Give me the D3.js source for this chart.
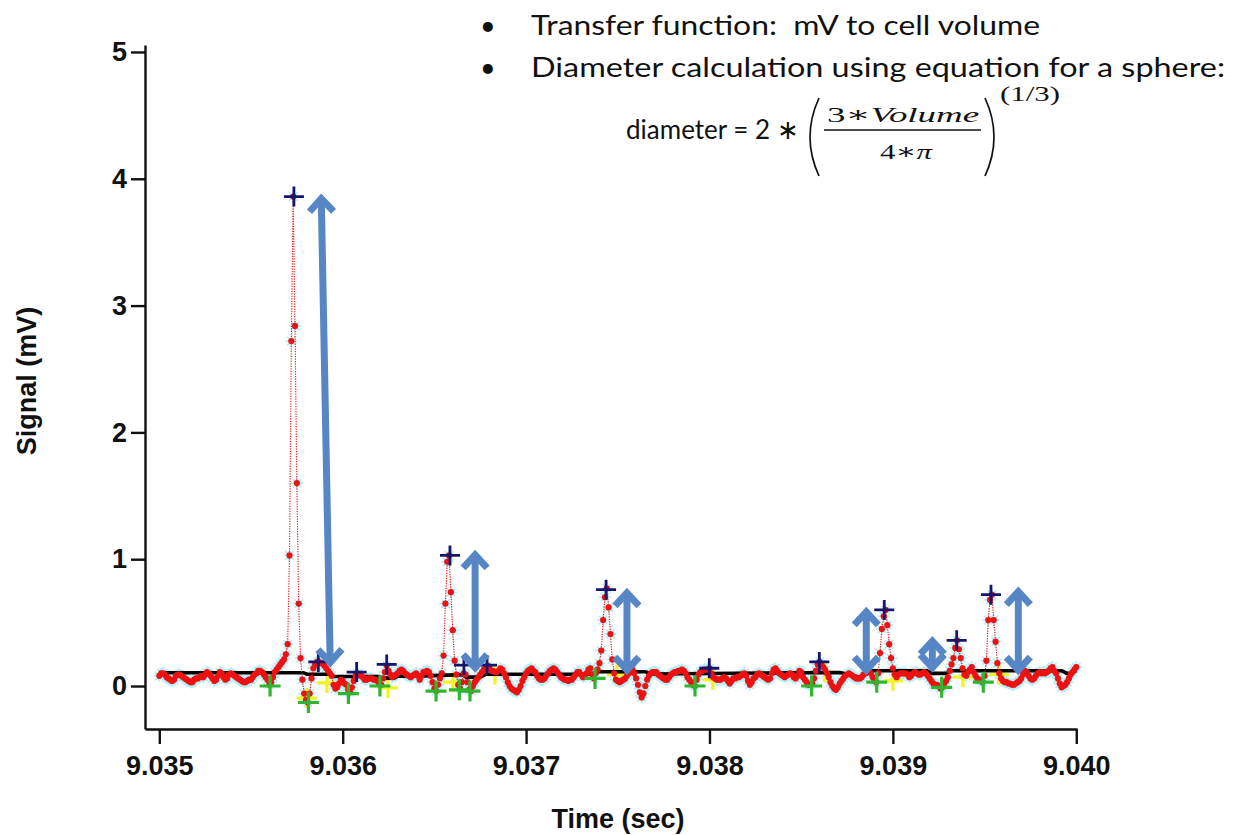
<!DOCTYPE html>
<html><head><meta charset="utf-8">
<script src="https://cdn.jsdelivr.net/npm/d3@7/dist/d3.min.js"></script>
<style>
html,body{margin:0;padding:0;background:#fff;}
svg{display:block;}
</style></head>
<body>
<svg id="chart" width="1237" height="835"></svg>
<script>
// ---- data ----
const startTime = 9.035;      // sec, first sample
const sampleStep = 0.00001;   // sec between samples
const signal = [
0.08,0.10,0.10,0.09,0.07,0.06,0.05,0.04,0.05,0.08,
0.09,0.09,0.08,0.07,0.06,0.05,0.04,0.03,0.03,0.05,
0.06,0.06,0.07,0.08,0.07,0.09,0.11,0.10,0.08,0.06,
0.04,0.05,0.08,0.11,0.10,0.07,0.05,0.06,0.09,0.10,
0.09,0.08,0.07,0.06,0.05,0.04,0.03,0.03,0.04,0.05,
0.05,0.07,0.09,0.10,0.12,0.12,0.11,0.09,0.07,0.05,
0.01,
0.03,0.07,0.11,0.13,0.15,0.17,0.19,0.21,0.25,0.33,
1.03,2.72,3.86,2.84,1.60,0.65,0.22,0.05,-0.06,-0.11,
-0.13,-0.06,0.06,0.14,0.17,0.19,0.19,0.18,0.18,0.16,
0.14,0.12,0.10,0.08,0.01,-0.02,-0.01,0.02,0.05,0.04,
0.02,0.01,-0.03,-0.05,-0.01,0.04,0.08,0.10,0.09,0.08,
0.07,0.05,0.05,0.06,0.06,0.06,0.05,0.05,0.04,0.02,
0.01,0.06,0.11,0.16,0.12,0.09,0.07,0.08,0.09,0.10,
0.12,0.13,0.12,0.10,0.09,0.08,0.07,0.08,0.09,0.10,
0.08,0.05,0.08,0.11,0.11,0.12,0.11,0.08,0.03,-0.02,
-0.04,0.01,0.06,0.10,0.24,0.65,0.98,1.03,0.74,0.44,
0.20,0.09,0.01,-0.02,0.03,0.10,0.09,0.03,-0.03,-0.04,
0.00,0.03,0.05,0.07,0.09,0.11,0.13,0.15,0.16,0.14,
0.12,0.12,0.11,0.11,0.12,0.14,0.13,0.10,0.07,0.03,
0.00,-0.02,-0.03,-0.04,-0.05,-0.03,0.00,0.04,0.07,0.10,
0.12,0.13,0.14,0.12,0.11,0.08,0.06,0.05,0.05,0.06,
0.08,0.10,0.12,0.13,0.14,0.13,0.11,0.09,0.07,0.06,
0.05,0.05,0.04,0.05,0.05,0.07,0.09,0.11,0.11,0.09,
0.07,0.08,0.10,0.13,0.14,0.09,0.06,0.10,0.13,0.18,
0.28,0.52,0.70,0.77,0.62,0.41,0.21,0.10,0.05,0.04,
0.03,0.04,0.05,0.06,0.08,0.10,0.11,0.13,0.10,0.06,
0.01,-0.05,-0.09,-0.06,0.00,0.05,0.08,0.10,0.11,0.11,
0.11,0.09,0.08,0.07,0.06,0.05,0.05,0.07,0.09,0.10,
0.11,0.11,0.12,0.12,0.13,0.12,0.10,0.07,0.05,0.03,
0.01,0.00,0.05,0.09,0.11,0.12,0.13,0.13,0.13,0.14,
0.10,0.07,0.06,0.05,0.05,0.05,0.06,0.07,0.06,0.04,
0.02,0.04,0.06,0.06,0.07,0.07,0.08,0.09,0.10,0.08,
0.04,0.01,0.03,0.06,0.07,0.09,0.10,0.09,0.08,0.07,
0.06,0.05,0.06,0.10,0.13,0.14,0.12,0.10,0.09,0.08,
0.07,0.08,0.09,0.10,0.09,0.07,0.06,0.08,0.12,0.11,
0.07,0.05,0.03,0.01,0.01,0.02,0.06,0.12,0.17,0.19,
0.17,0.15,0.13,0.10,0.07,0.03,0.00,-0.02,-0.03,-0.01,
0.02,0.04,0.06,0.08,0.09,0.10,0.09,0.08,0.07,0.06,
0.06,0.06,0.07,0.09,0.10,0.12,0.12,0.10,0.07,0.04,
0.03,0.10,0.26,0.45,0.55,0.60,0.48,0.33,0.22,0.14,
0.09,0.07,0.09,0.10,0.10,0.10,0.10,0.09,0.07,0.08,
0.10,0.11,0.10,0.09,0.09,0.10,0.11,0.10,0.08,0.06,
0.04,0.02,0.01,0.01,0.00,-0.02,-0.01,0.02,0.04,0.07,
0.12,0.17,0.22,0.30,0.36,0.29,0.22,0.14,0.09,0.08,
0.11,0.13,0.15,0.11,0.08,0.06,0.05,0.04,0.03,0.08,
0.20,0.52,0.68,0.72,0.52,0.35,0.18,0.10,0.06,0.04,
0.03,0.03,0.02,0.02,0.01,0.01,0.02,0.03,0.04,0.06,
0.09,0.12,0.11,0.08,0.06,0.05,0.06,0.08,0.10,0.11,
0.10,0.11,0.10,0.11,0.12,0.14,0.15,0.12,0.10,0.06,
0.02,-0.01,0.00,0.01,0.03,0.06,0.09,0.11,0.13,0.15
];

// baseline (black) trace
const baseTimes = [9.0350,9.035785,9.035805,9.035931,9.035953,9.036193,9.036214,9.036280,9.036301,9.036449,9.036651,9.036673,9.036749,9.036782,9.037349,9.037393,9.037649,9.037687,9.038712,9.038821,9.038892,9.039186,9.039213,9.039295,9.039311,9.039922,9.039949,9.039976,9.039998];
const baseValues = [0.105,0.105,0.093,0.093,0.075,0.075,0.062,0.062,0.078,0.080,0.090,0.070,0.070,0.093,0.093,0.113,0.113,0.095,0.107,0.070,0.120,0.120,0.100,0.100,0.120,0.120,0.100,0.100,0.120];

// detected maxima (navy +)
const maxTimes = [9.035734,9.035867,9.036076,9.036240,9.036585,9.036661,9.036787,9.037436,9.037999,9.038599,9.038953,9.039348,9.039535];
const maxValues = [3.86,0.19,0.11,0.17,1.03,0.165,0.165,0.76,0.14,0.19,0.60,0.36,0.72];

// detected minima (green +)
const minTimes = [9.035604,9.035813,9.036031,9.036203,9.036509,9.036636,9.036694,9.037376,9.037921,9.038557,9.038912,9.039266,9.039493];
const minValues = [0.00,-0.13,-0.06,0.00,-0.04,-0.03,-0.04,0.06,0.00,0.00,0.03,-0.01,0.03];

// yellow markers
const yelTimes = [9.035804,9.035914,9.036247,9.036601,9.036830,9.037495,9.038018,9.038629,9.039000,9.039382,9.039578];
const yelValues = [-0.095,0.025,-0.015,0.03,0.09,0.09,0.05,0.11,0.04,0.07,0.09];

// annotation arrows: time of top, value at top, time of bottom, value at bottom
const arrowTopT = [9.035883,9.036722,9.037550,9.038855,9.039215,9.039684];
const arrowTopV = [3.86,1.05,0.75,0.60,0.37,0.76];
const arrowBotT = [9.035932,9.036722,9.037550,9.038855,9.039215,9.039684];
const arrowBotV = [0.17,0.13,0.11,0.11,0.13,0.11];

const xTicks = [9.035,9.036,9.037,9.038,9.039,9.040];
const yTicks = [0,1,2,3,4,5];

// ---- drawing ----
const svg = d3.select("#chart");
const x = d3.scaleLinear().domain([9.034922, 9.040004]).range([145, 1077]);
const y = d3.scaleLinear().domain([-0.339, 5.055]).range([729, 45]);

const pts = signal.map((v,i)=>({t:startTime+i*sampleStep, v}));

const plus = (cx,cy,s)=>`M${cx-s},${cy}H${cx+s}M${cx},${cy-s}V${cy+s}`;
const star = (cx,cy,s)=>`M${cx-s},${cy}H${cx+s}M${cx},${cy-s}V${cy+s}M${cx-s*0.7},${cy-s*0.7}L${cx+s*0.7},${cy+s*0.7}M${cx-s*0.7},${cy+s*0.7}L${cx+s*0.7},${cy-s*0.7}`;

// cyan halo markers
svg.append("path")
  .attr("d", pts.map(p=>star(x(p.t), y(p.v), 6)).join(""))
  .attr("stroke","#b6eef6").attr("stroke-width",1.8).attr("fill","none");

// yellow markers
svg.append("path")
  .attr("d", yelTimes.map((t,i)=>plus(x(t), y(yelValues[i]), 10)).join(""))
  .attr("stroke","#f4f418").attr("stroke-width",3.2).attr("fill","none");

// baseline
svg.append("path")
  .datum(baseTimes.map((t,i)=>({t, v:baseValues[i]})))
  .attr("d", d3.line().x(d=>x(d.t)).y(d=>y(d.v)))
  .attr("stroke","#000").attr("stroke-width",3.6).attr("fill","none");

// red trace
svg.append("path")
  .datum(pts)
  .attr("d", d3.line().x(d=>x(d.t)).y(d=>y(d.v)))
  .attr("stroke","#e81818").attr("stroke-width",1.1).attr("stroke-dasharray","1.3,1.2").attr("fill","none");
svg.append("g").selectAll("circle").data(pts).join("circle")
  .attr("cx",d=>x(d.t)).attr("cy",d=>y(d.v)).attr("r",3.1).attr("fill","#ee1111");

// minima
svg.append("path")
  .attr("d", minTimes.map((t,i)=>plus(x(t), y(minValues[i]), 10.5)).join(""))
  .attr("stroke","#2fb52f").attr("stroke-width",3.2).attr("fill","none");
// maxima
svg.append("path")
  .attr("d", maxTimes.map((t,i)=>plus(x(t), y(maxValues[i]), 10)).join(""))
  .attr("stroke","#15156e").attr("stroke-width",2.8).attr("fill","none");

// arrows
const arrowColor = "#5686c5";
arrowTopT.forEach((tt,i)=>{
  const x1=x(tt), y1=y(arrowTopV[i]), x2=x(arrowBotT[i]), y2=y(arrowBotV[i]);
  const ang=Math.atan2(y2-y1,x2-x1);
  const ux=Math.cos(ang), uy=Math.sin(ang);
  const px=-uy, py=ux;
  const hl=15, hw=12;
  const g=svg.append("g").attr("stroke",arrowColor).attr("fill","none").attr("stroke-width",7);
  g.append("line").attr("x1",x1+ux*3).attr("y1",y1+uy*3).attr("x2",x2-ux*3).attr("y2",y2-uy*3);
  g.append("path").attr("stroke-linejoin","miter")
    .attr("d",`M${x1+ux*hl+px*hw},${y1+uy*hl+py*hw}L${x1+ux*2},${y1+uy*2}L${x1+ux*hl-px*hw},${y1+uy*hl-py*hw}`);
  g.append("path").attr("stroke-linejoin","miter")
    .attr("d",`M${x2-ux*hl+px*hw},${y2-uy*hl+py*hw}L${x2-ux*2},${y2-uy*2}L${x2-ux*hl-px*hw},${y2-uy*hl-py*hw}`);
});

// axes
const fontAxis = "'Liberation Sans', Arial, sans-serif";
const xAxis = svg.append("g").attr("transform","translate(0,729)")
  .call(d3.axisBottom(x).tickValues(xTicks).tickFormat(d3.format(".3f")).tickSize(15).tickSizeOuter(0).tickPadding(12));
const yAxis = svg.append("g").attr("transform","translate(145,0)")
  .call(d3.axisLeft(y).tickValues(yTicks).tickFormat(d3.format("d")).tickSize(14).tickSizeOuter(0).tickPadding(4));
[xAxis,yAxis].forEach(a=>{
  a.select(".domain").attr("stroke","#111").attr("stroke-width",2.4);
  a.selectAll(".tick line").attr("stroke","#111").attr("stroke-width",2.4);
  a.selectAll(".tick text").attr("fill","#111").style("font-family",fontAxis).style("font-weight","bold").style("font-size","27px");
});

svg.append("text").attr("x",618).attr("y",828).attr("text-anchor","middle")
  .style("font-family",fontAxis).style("font-weight","bold").style("font-size","27px").attr("fill","#111")
  .text("Time (sec)");
svg.append("text").attr("transform","translate(36,381) rotate(-90)").attr("text-anchor","middle")
  .style("font-family",fontAxis).style("font-weight","bold").style("font-size","27px").attr("fill","#111")
  .text("Signal (mV)");

// annotation text
const fontNote = "Lato, 'Open Sans', sans-serif";
const note = svg.append("g").attr("fill","#111").style("font-family",fontNote).style("font-size","27px");
note.append("text").attr("x",480).attr("y",35).text("•");
note.append("text").attr("x",480).attr("y",77).text("•");
note.append("text").attr("x",531).attr("y",35).style("white-space","pre")
  .attr("textLength",509).attr("lengthAdjust","spacingAndGlyphs").text("Transfer function:  mV to cell volume");
note.append("text").attr("x",531).attr("y",77)
  .attr("textLength",694).attr("lengthAdjust","spacingAndGlyphs").text("Diameter calculation using equation for a sphere:");
note.append("text").attr("x",626).attr("y",139)
  .attr("textLength",173).attr("lengthAdjust","spacingAndGlyphs").text("diameter = 2 ∗");
// parentheses
const paren = svg.append("g").attr("stroke","#111").attr("fill","none").attr("stroke-width",1.7);
paren.append("path").attr("d","M819,98 Q801,137 819,176");
paren.append("path").attr("d","M985,98 Q1003,137 985,176");
const math = svg.append("g").attr("fill","#111").style("font-family","'Liberation Serif', 'DejaVu Serif', serif").style("font-size","22px");
math.append("text").attr("x",827).attr("y",122).attr("textLength",152).attr("lengthAdjust","spacingAndGlyphs")
  .html('3∗<tspan font-style="italic">Volume</tspan>');
svg.append("line").attr("x1",824).attr("x2",981).attr("y1",130).attr("y2",130).attr("stroke","#111").attr("stroke-width",1.5);
math.append("text").attr("x",880).attr("y",159).attr("textLength",52).attr("lengthAdjust","spacingAndGlyphs")
  .html('4∗<tspan font-style="italic">π</tspan>');
math.append("text").attr("x",1000).attr("y",101).attr("textLength",60).attr("lengthAdjust","spacingAndGlyphs").text("(1/3)");
</script>
</body></html>
